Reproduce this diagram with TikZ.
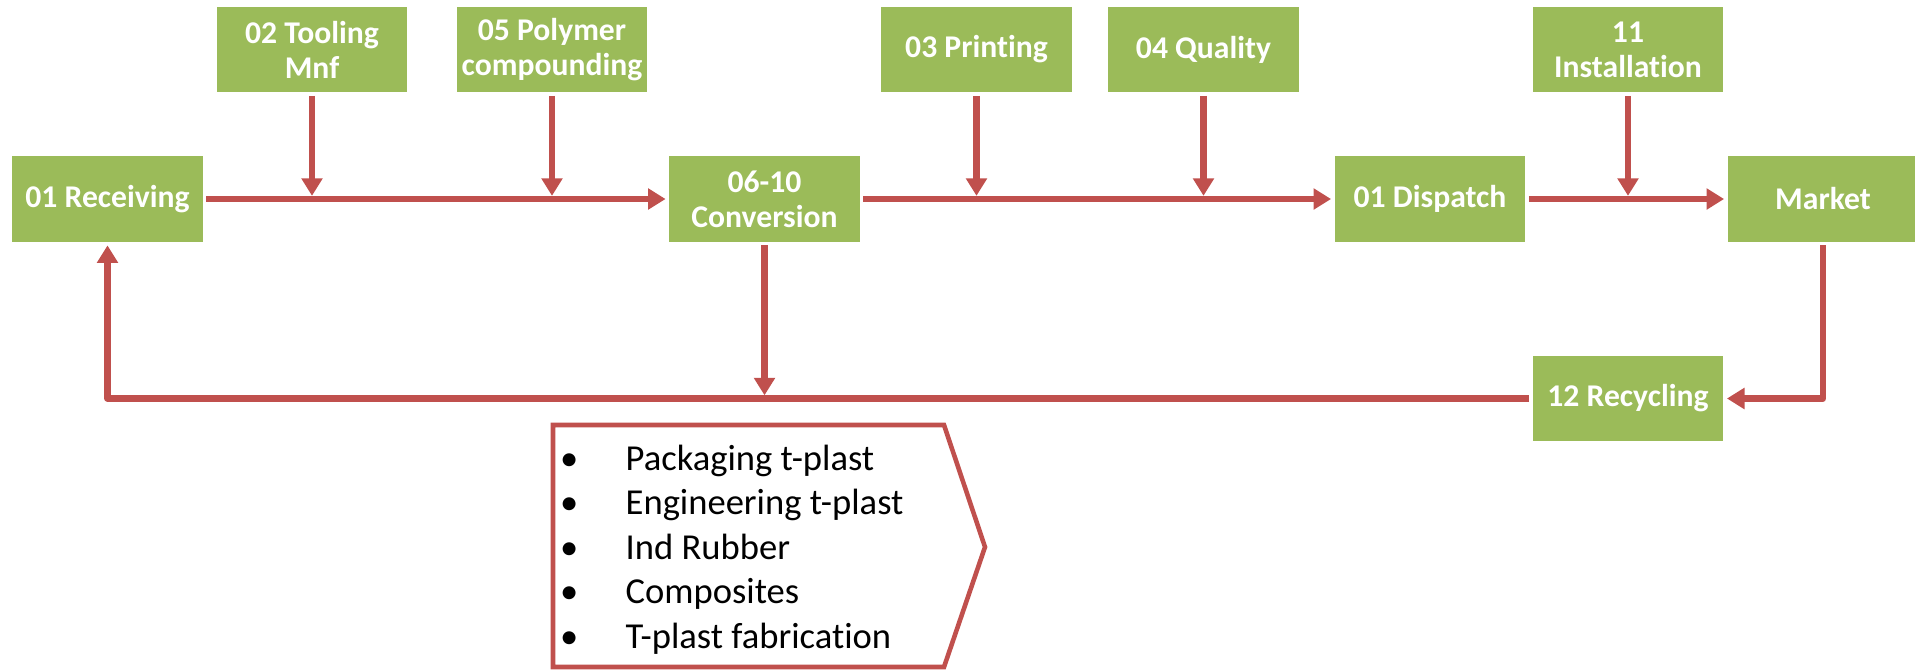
\documentclass[tikz,border=0pt]{standalone}
\usepackage{fontspec}
\setmainfont{Carlito}[Ligatures=NoCommon]
\usepackage{tikz}
\usetikzlibrary{arrows.meta}
\usetikzlibrary{positioning}
\definecolor{boxgreen}{HTML}{9BBB59}
\definecolor{flowred}{HTML}{C0504D}
\tikzset{
    stage/.style={fill=boxgreen, text=white, align=center,
        font=\bfseries\fontsize{9}{10}\selectfont,
        minimum width=1.9cm, minimum height=0.85cm, inner sep=0pt, outer sep=1.1pt},
    flow/.style={draw=flowred, line width=1.85pt, line join=round,
        -{Triangle[length=5pt,width=5.8pt]}},
    feed/.style={flow, shorten >=0.9pt},
    listbox/.style={draw=flowred, line width=1.3pt},
    listitem/.style={anchor=base west, inner sep=0pt,
        font=\fontsize{10.4}{12.6}\selectfont},
}

\begin{document}
\begin{tikzpicture}[x=0.01cm, y=-0.01cm]
    \useasboundingbox (0,0) rectangle (1915,669);
    % main line
    \node[stage] (recv) at (107.5,199) {01 Receiving};
    \node[stage] (conv) at (764.5,199) {06-10\\Conversion};
    \node[stage] (disp) at (1430,199) {01 Dispatch};
    \node[stage] (mkt) at (1823,199) {Market};
    \node[stage] (recyc) at (1628,398.5) {12 Recycling};
    % feeders
    \node[stage] (tool) at (312,49.5) {02 Tooling\\Mnf};
    \node[stage] (poly) at (552,49.5) {05 Polymer\\compounding};
    \node[stage] (print) at (976.5,49.5) {03 Printing};
    \node[stage] (qual) at (1203.5,49.5) {04 Quality};
    \node[stage] (inst) at (1628,49.5) {11\\Installation};

    \draw[flow] (recv) -- (conv);
    \draw[flow] (conv) -- (disp);
    \draw[flow] (disp) -- (mkt);
    \foreach \src in {tool,poly,print,qual,inst}
        \draw[feed] (\src) -- (\src |- recv);
    % return loop
    \draw[flow] (mkt) |- (recyc);
    \draw[flow] (recyc) -| (recv);
    \draw[feed] (conv) -- (conv |- recyc);

    % product list
    \draw[listbox] (553,425) -- (944,425) -- (985,547) -- (944,667) -- (553,667) -- cycle;
    \foreach \txt [count=\i] in {Packaging t-plast, Engineering t-plast, Ind Rubber,
        Composites, T-plast fabrication}
        \node[listitem] (item\i) at (625,{470+44.5*(\i-1)})
            {\llap{\textbullet\hspace{13.5pt}}\txt};
\end{tikzpicture}
\end{document}
